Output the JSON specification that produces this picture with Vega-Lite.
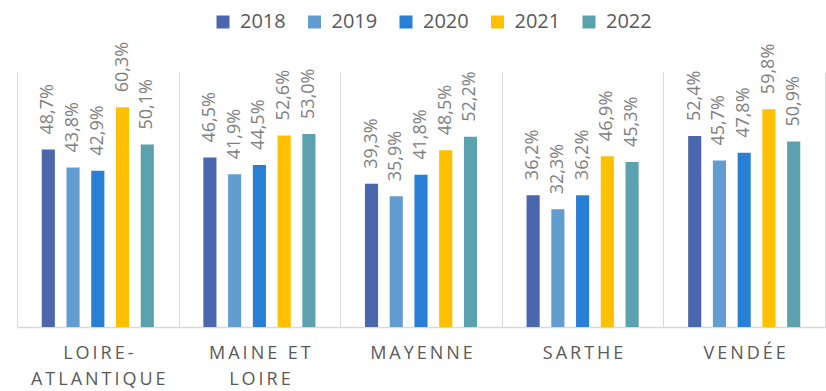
{
  "$schema": "https://vega.github.io/schema/vega-lite/v6.json",
  "width": 808,
  "height": 255,
  "autosize": "none",
  "padding": {"left": 17, "top": 72, "right": 1, "bottom": 64},
  "config": {
    "font": "Open Sans",
    "view": {"stroke": null},
    "locale": {
      "number": {"decimal": ",", "thousands": " ", "grouping": [3], "currency": ["", " €"]}
    }
  },
  "data": {
    "values": [
      {"departement": "LOIRE-ATLANTIQUE", "annee": "2018", "part": 0.487},
      {"departement": "LOIRE-ATLANTIQUE", "annee": "2019", "part": 0.438},
      {"departement": "LOIRE-ATLANTIQUE", "annee": "2020", "part": 0.429},
      {"departement": "LOIRE-ATLANTIQUE", "annee": "2021", "part": 0.603},
      {"departement": "LOIRE-ATLANTIQUE", "annee": "2022", "part": 0.501},
      {"departement": "MAINE ET LOIRE", "annee": "2018", "part": 0.465},
      {"departement": "MAINE ET LOIRE", "annee": "2019", "part": 0.419},
      {"departement": "MAINE ET LOIRE", "annee": "2020", "part": 0.445},
      {"departement": "MAINE ET LOIRE", "annee": "2021", "part": 0.526},
      {"departement": "MAINE ET LOIRE", "annee": "2022", "part": 0.530},
      {"departement": "MAYENNE", "annee": "2018", "part": 0.393},
      {"departement": "MAYENNE", "annee": "2019", "part": 0.359},
      {"departement": "MAYENNE", "annee": "2020", "part": 0.418},
      {"departement": "MAYENNE", "annee": "2021", "part": 0.485},
      {"departement": "MAYENNE", "annee": "2022", "part": 0.522},
      {"departement": "SARTHE", "annee": "2018", "part": 0.362},
      {"departement": "SARTHE", "annee": "2019", "part": 0.323},
      {"departement": "SARTHE", "annee": "2020", "part": 0.362},
      {"departement": "SARTHE", "annee": "2021", "part": 0.469},
      {"departement": "SARTHE", "annee": "2022", "part": 0.453},
      {"departement": "VENDÉE", "annee": "2018", "part": 0.524},
      {"departement": "VENDÉE", "annee": "2019", "part": 0.457},
      {"departement": "VENDÉE", "annee": "2020", "part": 0.478},
      {"departement": "VENDÉE", "annee": "2021", "part": 0.598},
      {"departement": "VENDÉE", "annee": "2022", "part": 0.509}
    ]
  },
  "encoding": {
    "x": {
      "field": "departement",
      "type": "nominal",
      "sort": null,
      "scale": {"paddingInner": 0, "paddingOuter": 0},
      "axis": {
        "title": null,
        "labelAngle": 0,
        "ticks": false,
        "grid": true,
        "tickBand": "extent",
        "gridColor": "#d9d9d9",
        "gridWidth": 1,
        "domainColor": "#d9d9d9",
        "domainWidth": 1.5,
        "labelFontSize": 18,
        "labelColor": "#595959",
        "labelPadding": 17,
        "labelLineHeight": 26,
        "labelExpr": "split(replace(replace(replace(datum.label, 'LOIRE-A', 'LOIRE-|A'), 'ET L', 'ET|L'), regexp('([^|])(?=[^|])', 'g'), '$1\u2009'), '|')"
      }
    },
    "xOffset": {
      "field": "annee",
      "type": "nominal",
      "scale": {"paddingInner": 0.47, "paddingOuter": 1.16}
    },
    "y": {
      "field": "part",
      "type": "quantitative",
      "scale": {"domain": [0, 0.7]},
      "axis": {
        "orient": "right",
        "title": null,
        "labels": false,
        "ticks": false,
        "grid": false,
        "domainColor": "#d9d9d9",
        "domainWidth": 1
      }
    }
  },
  "layer": [
    {
      "mark": {"type": "bar", "opacity": 1},
      "encoding": {
        "color": {
          "field": "annee",
          "type": "nominal",
          "title": null,
          "scale": {
            "domain": ["2018", "2019", "2020", "2021", "2022"],
            "range": ["#4a66ac", "#629dd1", "#297fd5", "#ffc000", "#5aa2ae"]
          },
          "legend": {
            "orient": "none",
            "direction": "horizontal",
            "legendX": 196,
            "legendY": -60,
            "symbolType": "square",
            "symbolSize": 169,
            "symbolStrokeWidth": 0,
            "symbolOpacity": 1,
            "labelFontSize": 20,
            "labelColor": "#595959",
            "labelOffset": 7,
            "columnPadding": 18.5
          }
        }
      }
    },
    {
      "mark": {
        "type": "text",
        "angle": 270,
        "align": "left",
        "baseline": "middle",
        "dx": 15,
        "fontSize": 18,
        "color": "#808080"
      },
      "encoding": {
        "text": {"field": "part", "type": "quantitative", "format": ".1%"}
      }
    }
  ]
}
